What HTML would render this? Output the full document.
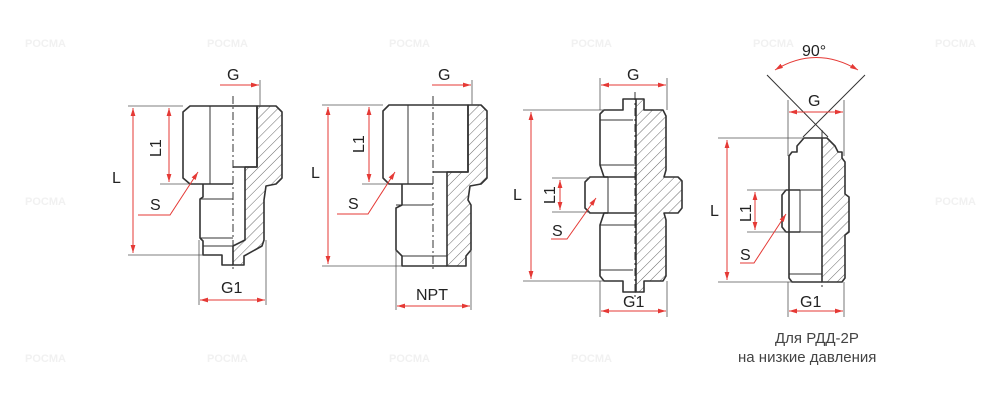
<!DOCTYPE html>
<html><head><meta charset="utf-8"><style>
html,body{margin:0;padding:0;background:#fff;}
svg{display:block;font-family:"Liberation Sans",sans-serif;}
.o{fill:none;stroke:#333;stroke-width:1.6;stroke-linejoin:round}
.h{fill:url(#hat);stroke:#333;stroke-width:1.6;stroke-linejoin:round}
.t{stroke:#333;stroke-width:1}
.c{stroke:#333;stroke-width:1;stroke-dasharray:8 3 2 3}
.e{stroke:#555;stroke-width:0.8}
.r{stroke:#e53935;stroke-width:1;fill:none}
.tx{font-size:16px;fill:#222}
.wm{font-size:11px;font-weight:bold;fill:#f1f1f1}
</style></head><body>
<svg width="1000" height="405" viewBox="0 0 1000 405">
<defs>
<pattern id="hat" width="7" height="7" patternUnits="userSpaceOnUse" patternTransform="rotate(45)">
<line x1="0" y1="0" x2="0" y2="7" stroke="#444" stroke-width="0.8"/></pattern>
<marker id="a" viewBox="0 0 10 10" refX="10" refY="5" markerWidth="8" markerHeight="8" orient="auto-start-reverse"><path d="M0,2 L10,5 L0,8 z" fill="#e53935"/></marker>
</defs>
<g>
<text class="wm" x="25" y="47">POCMA</text><text class="wm" x="207" y="47">POCMA</text><text class="wm" x="389" y="47">POCMA</text><text class="wm" x="571" y="47">POCMA</text><text class="wm" x="753" y="47">POCMA</text><text class="wm" x="935" y="47">POCMA</text>
<text class="wm" x="25" y="205">POCMA</text><text class="wm" x="935" y="205">POCMA</text>
<text class="wm" x="25" y="362">POCMA</text><text class="wm" x="207" y="362">POCMA</text><text class="wm" x="389" y="362">POCMA</text><text class="wm" x="571" y="362">POCMA</text>
</g>

<!-- Drawing 1 -->
<path class="h" d="M257,106 L276,106 L282,112 L282,178 L276,184 L266,186 L264,200 L264,240 L262,246 L244,256 L244,265 L233,265 L233,246 L245,240 L245,167 L257,167 Z"/>
<path class="o" d="M233,106 L257,106 L257,167 L233,167"/>
<path class="o" d="M233,106 L190,106 L183,112 L183,178 L190,184 L233,184"/>
<line class="t" x1="210" y1="106" x2="210" y2="184"/>
<path class="o" d="M203,184 L203,197 L200,199 L200,238 L203,241 L203,255 L222,255 L222,265 L233,265"/>
<line class="t" x1="200" y1="199" x2="233" y2="199"/><line class="t" x1="200" y1="238" x2="233" y2="238"/><line class="t" x1="203" y1="246" x2="233" y2="246"/>
<line class="c" x1="233" y1="96" x2="233" y2="270"/>
<line class="e" x1="128" y1="106" x2="183" y2="106"/><line class="e" x1="128" y1="255" x2="203" y2="255"/><line class="e" x1="160" y1="184" x2="190" y2="184"/>
<line class="r" x1="133" y1="108" x2="133" y2="253" marker-start="url(#a)" marker-end="url(#a)"/>
<line class="r" x1="169" y1="108" x2="169" y2="182" marker-start="url(#a)" marker-end="url(#a)"/>
<polyline class="r" points="138,215 170,215 198,172" marker-end="url(#a)"/>
<line class="e" x1="260" y1="80" x2="260" y2="106"/><line class="r" x1="220" y1="85" x2="259" y2="85" marker-end="url(#a)"/>
<line class="e" x1="199" y1="240" x2="199" y2="305"/><line class="e" x1="266" y1="240" x2="266" y2="305"/>
<line class="r" x1="200" y1="300" x2="265" y2="300" marker-start="url(#a)" marker-end="url(#a)"/>
<text class="tx" x="112" y="183">L</text><text class="tx" transform="translate(161,157) rotate(-90)">L1</text>
<text class="tx" x="150" y="210">S</text><text class="tx" x="227" y="80">G</text><text class="tx" x="221" y="293">G1</text>

<!-- Drawing 2 -->
<path class="h" d="M468,105 L481,105 L487,111 L487,178 L481,184 L470,186 L468,200 L471,205 L471,250 L466,256 L466,266 L447,266 L447,172 L468,172 Z"/>
<path class="o" d="M433,105 L468,105 L468,172 L433,172"/>
<path class="o" d="M433,105 L389,105 L383,111 L383,178 L389,184 L433,184"/>
<line class="t" x1="408" y1="105" x2="408" y2="184"/>
<path class="o" d="M402,184 L402,205 L396,208 L396,250 L402,256 L402,266 L447,266"/>
<line class="t" x1="396" y1="205" x2="433" y2="205"/><line class="t" x1="402" y1="256" x2="447" y2="256"/>
<line class="c" x1="433" y1="96" x2="433" y2="272"/>
<line class="e" x1="322" y1="105" x2="383" y2="105"/><line class="e" x1="322" y1="266" x2="402" y2="266"/><line class="e" x1="362" y1="184" x2="389" y2="184"/>
<line class="r" x1="328" y1="107" x2="328" y2="264" marker-start="url(#a)" marker-end="url(#a)"/>
<line class="r" x1="369" y1="107" x2="369" y2="182" marker-start="url(#a)" marker-end="url(#a)"/>
<polyline class="r" points="337,214 368,214 395,172" marker-end="url(#a)"/>
<line class="e" x1="472" y1="80" x2="472" y2="105"/><line class="r" x1="432" y1="85" x2="471" y2="85" marker-end="url(#a)"/>
<line class="e" x1="396" y1="250" x2="396" y2="310"/><line class="e" x1="471" y1="250" x2="471" y2="310"/>
<line class="r" x1="397" y1="306" x2="470" y2="306" marker-start="url(#a)" marker-end="url(#a)"/>
<text class="tx" x="311" y="178">L</text><text class="tx" transform="translate(364,153) rotate(-90)">L1</text>
<text class="tx" x="348" y="209">S</text><text class="tx" x="438" y="80">G</text><text class="tx" x="416" y="300">NPT</text>

<!-- Drawing 3 -->
<path class="h" d="M636,99 L644,99 L644,110 L663,110 L666,116 L666,170 L664,177 L678,177 L682,181 L682,208 L678,213 L664,213 L666,220 L666,276 L663,281 L644,281 L644,292 L636,292 Z"/>
<path class="o" d="M636,99 L623,99 L623,110 L604,110 L600,114 L600,165 L604,177 L608,177 M608,213 L604,213 L600,225 L600,276 L604,281 L623,281 L623,292 L636,292"/>
<path class="o" d="M608,177 L590,177 L585,182 L585,208 L590,213 L636,213 M608,177 L636,177"/>
<line class="t" x1="608" y1="177" x2="608" y2="213"/>
<line class="t" x1="600" y1="120" x2="633" y2="120"/><line class="t" x1="600" y1="165" x2="636" y2="165"/><line class="t" x1="600" y1="225" x2="636" y2="225"/><line class="t" x1="600" y1="270" x2="633" y2="270"/>
<line class="c" x1="635" y1="92" x2="635" y2="298"/>
<line class="e" x1="523" y1="110" x2="604" y2="110"/><line class="e" x1="523" y1="281" x2="604" y2="281"/>
<line class="e" x1="552" y1="178" x2="590" y2="178"/><line class="e" x1="552" y1="212" x2="590" y2="212"/>
<line class="r" x1="531" y1="112" x2="531" y2="279" marker-start="url(#a)" marker-end="url(#a)"/>
<line class="r" x1="560" y1="180" x2="560" y2="210" marker-start="url(#a)" marker-end="url(#a)"/>
<polyline class="r" points="551,239 567,239 596,198" marker-end="url(#a)"/>
<line class="e" x1="600" y1="78" x2="600" y2="110"/><line class="e" x1="667" y1="78" x2="667" y2="110"/>
<line class="r" x1="601" y1="85" x2="666" y2="85" marker-start="url(#a)" marker-end="url(#a)"/>
<line class="e" x1="600" y1="281" x2="600" y2="317"/><line class="e" x1="667" y1="281" x2="667" y2="317"/>
<line class="r" x1="601" y1="311" x2="666" y2="311" marker-start="url(#a)" marker-end="url(#a)"/>
<text class="tx" x="513" y="200">L</text><text class="tx" transform="translate(555,204) rotate(-90)">L1</text>
<text class="tx" x="552" y="236">S</text><text class="tx" x="627" y="80">G</text><text class="tx" x="623" y="307">G1</text>

<!-- Drawing 4 -->
<path class="h" d="M822,138 L827,138 L835,146 L838,152 L842,152 L842,158 L845,162 L845,194 L849,197 L849,232 L845,235 L845,278 L842,282 L822,282 Z"/>
<path class="o" d="M822,138 L804,138 L797,146 L797,152 L792,152 L789,156 L789,278 L792,282 L822,282"/>
<path class="o" d="M800,190 L786,190 L782,195 L782,227 L786,232 L800,232"/>
<line class="t" x1="800" y1="190" x2="822" y2="190"/><line class="t" x1="800" y1="232" x2="822" y2="232"/><line class="t" x1="800" y1="190" x2="800" y2="232"/>
<line class="t" x1="789" y1="274" x2="822" y2="274"/>
<line class="c" x1="822" y1="130" x2="822" y2="288"/>
<line class="t" x1="767" y1="75" x2="828" y2="137"/><line class="t" x1="865" y1="75" x2="803" y2="137"/>
<path class="r" d="M775,70 Q816,45 858,70" marker-start="url(#a)" marker-end="url(#a)"/>
<line class="e" x1="718" y1="138" x2="804" y2="138"/><line class="e" x1="718" y1="282" x2="792" y2="282"/>
<line class="e" x1="747" y1="190" x2="786" y2="190"/><line class="e" x1="747" y1="232" x2="786" y2="232"/>
<line class="r" x1="727" y1="140" x2="727" y2="280" marker-start="url(#a)" marker-end="url(#a)"/>
<line class="r" x1="755" y1="192" x2="755" y2="230" marker-start="url(#a)" marker-end="url(#a)"/>
<polyline class="r" points="740,263 754,263 786,214" marker-end="url(#a)"/>
<line class="e" x1="788" y1="100" x2="788" y2="156"/><line class="e" x1="844" y1="100" x2="844" y2="156"/>
<line class="r" x1="789" y1="112" x2="843" y2="112" marker-start="url(#a)" marker-end="url(#a)"/>
<line class="e" x1="788" y1="282" x2="788" y2="317"/><line class="e" x1="844" y1="282" x2="844" y2="317"/>
<line class="r" x1="789" y1="311" x2="843" y2="311" marker-start="url(#a)" marker-end="url(#a)"/>
<text class="tx" x="710" y="216">L</text><text class="tx" transform="translate(751,222) rotate(-90)">L1</text>
<text class="tx" x="740" y="260">S</text><text class="tx" x="808" y="106">G</text><text class="tx" x="800" y="307">G1</text><text class="tx" x="802" y="56">90°</text>
<text style="font-size:15px;fill:#444" x="775" y="343">Для РДД-2Р</text>
<text style="font-size:15px;fill:#444" x="738" y="362">на низкие давления</text>
</svg>
</body></html>
